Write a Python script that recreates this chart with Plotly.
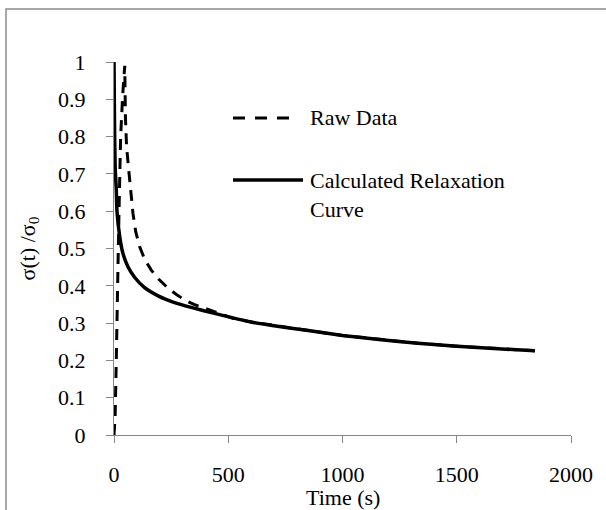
import plotly.graph_objects as go

# ---- data ----
raw_time = [0, 5, 10, 14, 19, 22, 26, 29, 38, 44, 47, 50, 55, 63, 74, 83, 95, 112, 135, 163,
            195, 229, 270, 309, 350, 397, 450, 520, 600, 700, 850, 1000, 1160, 1330, 1500,
            1680, 1842]
raw_value = [0.0, 0.05, 0.2, 0.4, 0.505, 0.60, 0.70, 0.80, 0.91, 0.98, 0.99, 0.853, 0.773,
             0.72, 0.657, 0.594, 0.545, 0.505, 0.47, 0.442, 0.418, 0.398, 0.378, 0.362, 0.35,
             0.34, 0.327, 0.313, 0.303, 0.293, 0.280, 0.267, 0.256, 0.246, 0.238, 0.231, 0.226]

calc_time = [0, 2, 5, 10, 13, 25, 39, 61, 90, 134, 193, 265, 338, 440, 520, 600, 700, 850,
             1000, 1160, 1330, 1500, 1680, 1842]
calc_value = [1.0, 0.85, 0.72, 0.657, 0.60, 0.532, 0.487, 0.451, 0.423, 0.395, 0.373, 0.355,
              0.342, 0.326, 0.314, 0.303, 0.293, 0.280, 0.267, 0.256, 0.246, 0.238, 0.231, 0.226]

legend_labels = ["Raw Data", "Calculated Relaxation<br>Curve"]
x_title = "Time (s)"
y_title = "σ(t) /σ<sub>0</sub>"
x_ticks = [0, 500, 1000, 1500, 2000]
y_ticks = [0, 0.1, 0.2, 0.3, 0.4, 0.5, 0.6, 0.7, 0.8, 0.9, 1]

FONT = "'Liberation Serif', 'Times New Roman', serif"
AXIS_GRAY = "#868686"

fig = go.Figure()
fig.add_trace(go.Scatter(x=raw_time, y=raw_value, mode="lines", name=legend_labels[0],
                         line=dict(color="black", width=3, dash="11px,8px")))
fig.add_trace(go.Scatter(x=calc_time, y=calc_value, mode="lines", name=legend_labels[1],
                         line=dict(color="black", width=3.5, shape="spline", smoothing=0.6)))

# custom legend (samples + labels)
fig.add_shape(type="line", xref="paper", yref="paper", x0=0.2604, x1=0.385, y0=0.85, y1=0.85,
              line=dict(color="black", width=3, dash="12px,10px"))
fig.add_shape(type="line", xref="paper", yref="paper", x0=0.2604, x1=0.4136, y0=0.6836, y1=0.6836,
              line=dict(color="black", width=3.5))
fig.add_annotation(xref="paper", yref="paper", x=0.424, y=0.85, xanchor="left", yanchor="middle",
                   text=legend_labels[0], showarrow=False, align="left",
                   font=dict(family=FONT, size=22, color="black"))
fig.add_annotation(xref="paper", yref="paper", x=0.424, y=0.6434, xanchor="left", yanchor="middle",
                   text=legend_labels[1], showarrow=False, align="left",
                   font=dict(family=FONT, size=22, color="black"))

# x-axis title placed as annotation (sits close under the tick labels)
fig.add_annotation(xref="paper", yref="paper", x=0.5, y=-0.168, xanchor="center",
                   yanchor="middle", text=x_title, showarrow=False,
                   font=dict(family=FONT, size=22, color="black"))

# outer chart border (cropped at right and bottom in the reference)
fig.add_shape(type="rect", xref="paper", yref="paper", x0=-0.2363, x1=2, y0=-2, y1=1.142,
              line=dict(color="#8c8c8c", width=1.5), layer="below")

fig.update_layout(
    width=606, height=510,
    margin=dict(l=114, r=35, t=62, b=75),
    paper_bgcolor="white", plot_bgcolor="white",
    showlegend=False,
    font=dict(family=FONT, size=22, color="black"),
    xaxis=dict(range=[0, 2000], tickvals=x_ticks, ticks="outside", ticklen=7,
               tickcolor=AXIS_GRAY, tickwidth=1.3, showline=True, linecolor=AXIS_GRAY,
               linewidth=1.3, showgrid=False, zeroline=False, ticklabelstandoff=12),
    yaxis=dict(range=[0, 1], tickvals=y_ticks, ticks="outside", ticklen=7,
               tickcolor=AXIS_GRAY, tickwidth=1.3, showline=True, linecolor=AXIS_GRAY,
               linewidth=1.3, showgrid=False, zeroline=False, ticklabelstandoff=16,
               title=dict(text=y_title, standoff=16, font=dict(size=22))),
)

fig.write_html("out.html", config={"displayModeBar": False},
               post_script="document.body.style.margin='0px';document.body.style.overflow='hidden';")
